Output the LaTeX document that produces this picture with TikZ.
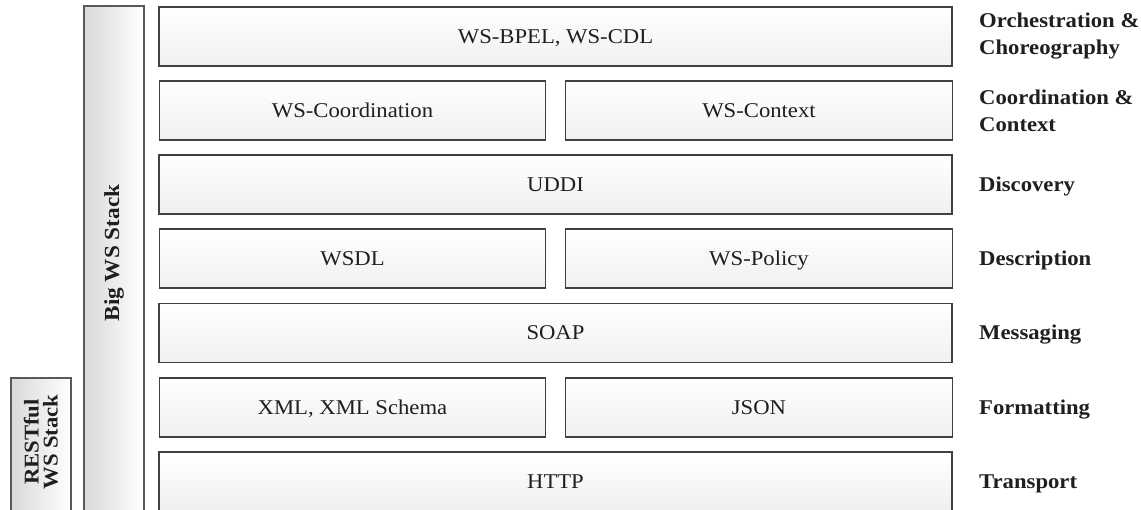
\documentclass[tikz,border=0pt]{standalone}
\usepackage{fontspec}
\setmainfont{Liberation Serif}[FakeStretch=1.08]
\begin{document}
\begin{tikzpicture}[x=1pt,y=-1pt,
  layerbox/.style={draw=black!75,line width=1.3pt,top color=white,bottom color=black!6,
    minimum height=59pt,inner sep=0pt,text height=14pt,text depth=0pt,text=black!88,
    font=\fontsize{21}{27}\selectfont},
  full/.style={layerbox,minimum width=793pt},
  half/.style={layerbox,minimum width=386.5pt},
  stackbar/.style={draw=black!65,line width=1.3pt,left color=black!15,right color=white},
  layerlabel/.style={anchor=west,align=left,inner sep=0pt,text=black!88,
    font=\fontsize{21}{27}\selectfont\bfseries},
  onelabel/.style={layerlabel,text height=14pt,text depth=0pt}]
\useasboundingbox (0,0) rectangle (1141,510);
\clip (0,0) rectangle (1141,510);
% stack bars
\draw[stackbar] (84,6) rectangle (144,530);
\draw[stackbar] (11,378) rectangle (71,530);
\node[rotate=90,text=black!88,font=\fontsize{21.5}{27}\selectfont\bfseries] (big) at (114,253) {Big WS Stack};
\node[rotate=90,align=center,text=black!88,font=\fontsize{21}{19}\selectfont\bfseries] (rest) at (41,442) {RESTful\\WS Stack};
% layers
\node[full] (bpel) at (555.5,36.5) {WS-BPEL, WS-CDL};
\node[half] (coord) at (352.5,110.5) {WS-Coordination};
\node[half] (ctx) at (759,110.5) {WS-Context};
\node[full] (uddi) at (555.5,184.5) {UDDI};
\node[half] (wsdl) at (352.5,258.5) {WSDL};
\node[half] (pol) at (759,258.5) {WS-Policy};
\node[full] (soap) at (555.5,333) {SOAP};
\node[half] (xml) at (352.5,407.5) {XML, XML Schema};
\node[half] (json) at (759,407.5) {JSON};
\node[full] (http) at (555.5,481.5) {HTTP};
% labels
\node[layerlabel] (l1) at (979,36.5) {Orchestration \&\\Choreography};
\node[layerlabel] (l2) at (979,110.5) {Coordination \&\\Context};
\node[onelabel] (l3) at (979,184.5) {Discovery};
\node[onelabel] (l4) at (979,258.5) {Description};
\node[onelabel] (l5) at (979,333) {Messaging};
\node[onelabel] (l6) at (979,407.5) {Formatting};
\node[onelabel] (l7) at (979,481.5) {Transport};
\end{tikzpicture}
\end{document}
